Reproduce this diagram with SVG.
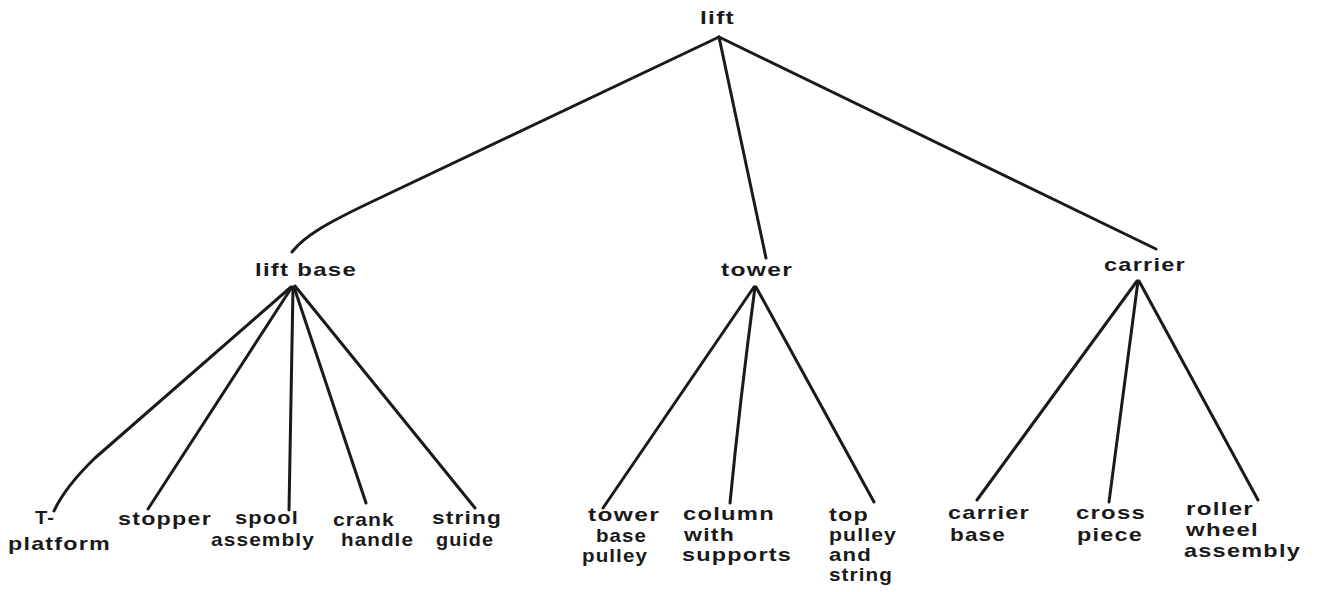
<svg xmlns="http://www.w3.org/2000/svg" width="1325" height="592" viewBox="0 0 1325 592">
<style>
  text { font-family: "Liberation Sans", Arial, sans-serif; font-size: 19px; font-weight: bold; fill: #1a1a1a; letter-spacing: 1px; }
  .top { font-size: 19px; }
  .edge { fill: none; stroke: #1a1a1a; stroke-width: 3; stroke-linecap: round; stroke-linejoin: round; }
</style>
<rect width="1325" height="592" fill="#ffffff"/>
<g id="connectors">
  <path class="edge" d="M719,37 L365,205 C330,222 305,235 292,252"/>
  <path class="edge" d="M719,37 L766,258"/>
  <path class="edge" d="M719,37 L1156,249"/>
  <path class="edge" d="M291,287 L95,458 Q65,487 54,511"/>
  <path class="edge" d="M292,287 L148,509"/>
  <path class="edge" d="M293,288 L289,510"/>
  <path class="edge" d="M294,287 L366,503"/>
  <path class="edge" d="M295,286 L475,508"/>
  <path class="edge" d="M754,287 L603,508"/>
  <path class="edge" d="M755,287 Q740,400 730,503"/>
  <path class="edge" d="M756,287 L874,502"/>
  <path class="edge" d="M1137,281 L977,500"/>
  <path class="edge" d="M1138,281 L1109,502"/>
  <path class="edge" d="M1139,281 L1258,500"/>
</g>
<g id="lift"><text class="top" x="700" y="24" textLength="35" lengthAdjust="spacingAndGlyphs">lift</text></g>
<g id="lift-base"><text class="top" x="255" y="276" textLength="102" lengthAdjust="spacingAndGlyphs">lift base</text></g>
<g id="tower"><text class="top" x="721" y="276" textLength="72" lengthAdjust="spacingAndGlyphs">tower</text></g>
<g id="carrier"><text class="top" x="1104" y="271" textLength="82" lengthAdjust="spacingAndGlyphs">carrier</text></g>
<g id="t-platform">
  <text x="35" y="524" textLength="20" lengthAdjust="spacingAndGlyphs">T-</text>
  <text x="8" y="550" textLength="103" lengthAdjust="spacingAndGlyphs">platform</text>
</g>
<g id="stopper"><text x="118" y="525" textLength="94" lengthAdjust="spacingAndGlyphs">stopper</text></g>
<g id="spool-assembly">
  <text x="235" y="524" textLength="64" lengthAdjust="spacingAndGlyphs">spool</text>
  <text x="211" y="546" textLength="104" lengthAdjust="spacingAndGlyphs">assembly</text>
</g>
<g id="crank-handle">
  <text x="333" y="526" textLength="62" lengthAdjust="spacingAndGlyphs">crank</text>
  <text x="341" y="546" textLength="73" lengthAdjust="spacingAndGlyphs">handle</text>
</g>
<g id="string-guide">
  <text x="432" y="524" textLength="70" lengthAdjust="spacingAndGlyphs">string</text>
  <text x="436" y="546" textLength="58" lengthAdjust="spacingAndGlyphs">guide</text>
</g>
<g id="tower-base-pulley">
  <text x="588" y="521" textLength="72" lengthAdjust="spacingAndGlyphs">tower</text>
  <text x="596" y="542" textLength="51" lengthAdjust="spacingAndGlyphs">base</text>
  <text x="582" y="562" textLength="66" lengthAdjust="spacingAndGlyphs">pulley</text>
</g>
<g id="column-with-supports">
  <text x="683" y="520" textLength="92" lengthAdjust="spacingAndGlyphs">column</text>
  <text x="684" y="541" textLength="51" lengthAdjust="spacingAndGlyphs">with</text>
  <text x="682" y="561" textLength="110" lengthAdjust="spacingAndGlyphs">supports</text>
</g>
<g id="top-pulley-and-string">
  <text x="829" y="521" textLength="40" lengthAdjust="spacingAndGlyphs">top</text>
  <text x="829" y="541" textLength="68" lengthAdjust="spacingAndGlyphs">pulley</text>
  <text x="829" y="561" textLength="43" lengthAdjust="spacingAndGlyphs">and</text>
  <text x="829" y="581" textLength="64" lengthAdjust="spacingAndGlyphs">string</text>
</g>
<g id="carrier-base">
  <text x="948" y="519" textLength="82" lengthAdjust="spacingAndGlyphs">carrier</text>
  <text x="950" y="541" textLength="56" lengthAdjust="spacingAndGlyphs">base</text>
</g>
<g id="cross-piece">
  <text x="1076" y="519" textLength="70" lengthAdjust="spacingAndGlyphs">cross</text>
  <text x="1077" y="541" textLength="66" lengthAdjust="spacingAndGlyphs">piece</text>
</g>
<g id="roller-wheel-assembly">
  <text x="1186" y="515" textLength="68" lengthAdjust="spacingAndGlyphs">roller</text>
  <text x="1186" y="536" textLength="73" lengthAdjust="spacingAndGlyphs">wheel</text>
  <text x="1184" y="557" textLength="117" lengthAdjust="spacingAndGlyphs">assembly</text>
</g>
</svg>
